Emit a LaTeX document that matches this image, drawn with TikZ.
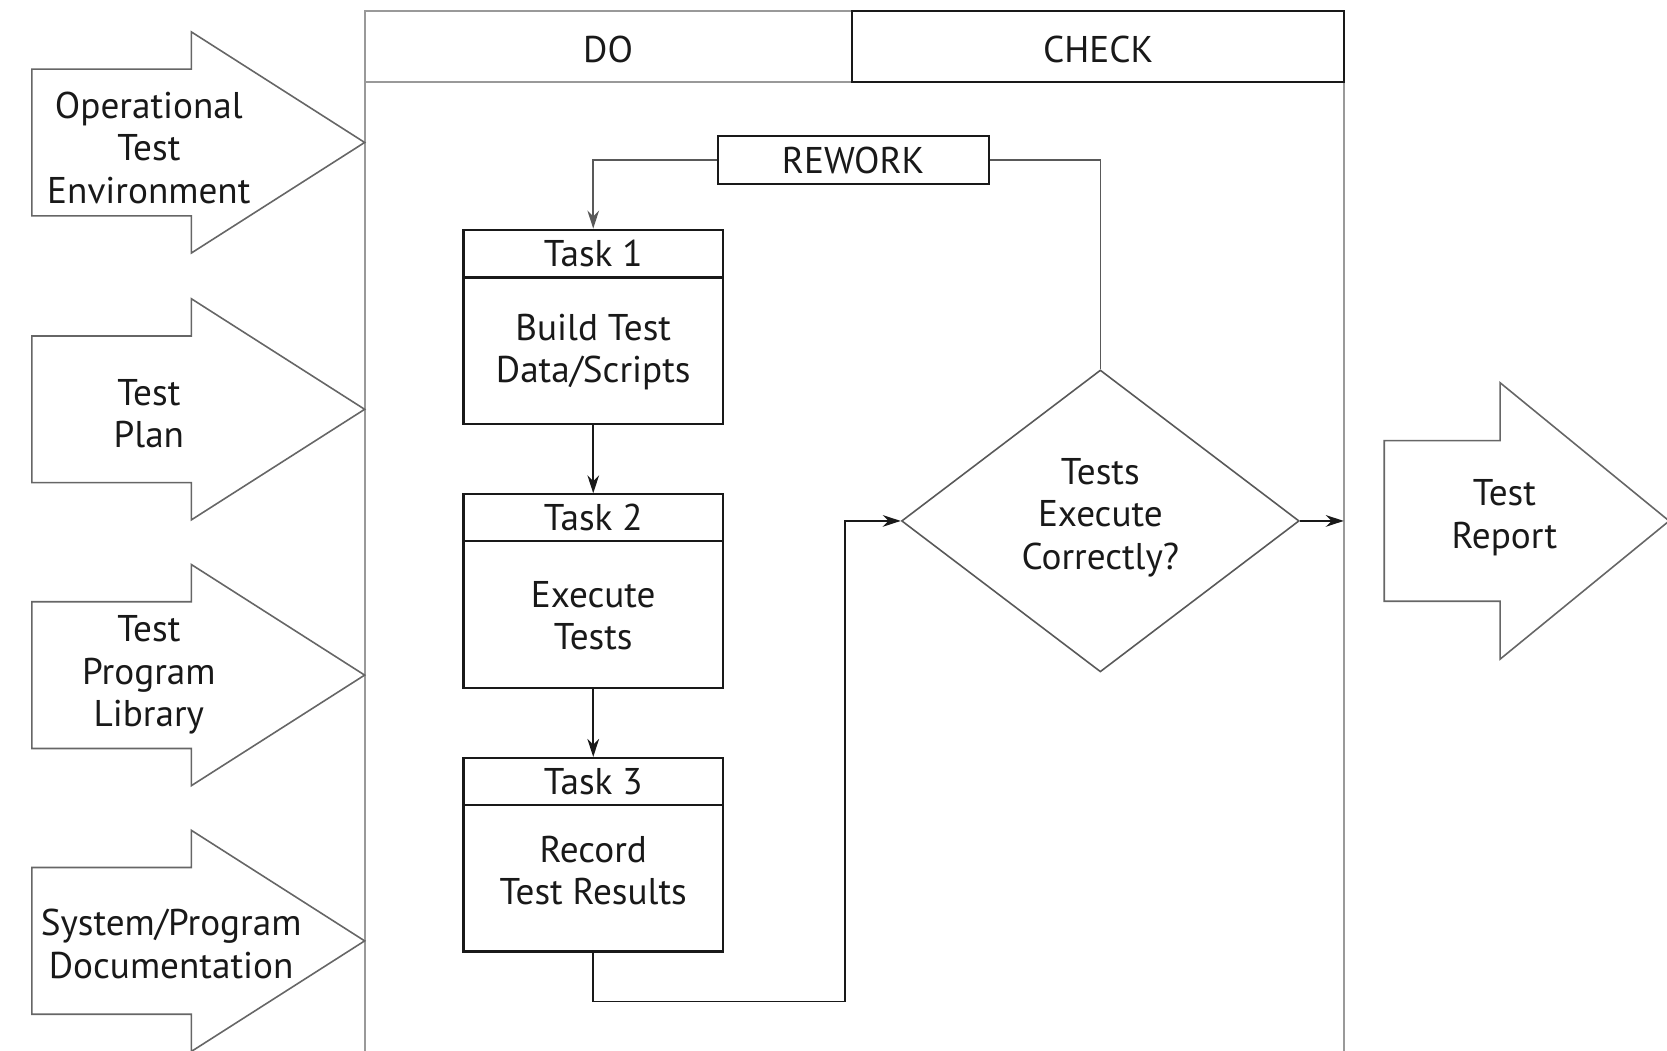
\documentclass[tikz,border=0pt]{standalone}
\usepackage{fontspec}
\setmainfont{PT Sans}
\usetikzlibrary{arrows.meta,shapes.geometric}
\begin{document}
\begin{tikzpicture}[x=1pt,y=-1pt,
  txt/.style={font=\fontsize{35}{40}\selectfont, align=center, text=black!90, inner sep=0pt},
  blk/.style={draw=black!90, line width=2pt},
  gline/.style={draw=black!65, line width=1.6pt},
  lgline/.style={draw=black!40, line width=1.8pt},
  garrow/.style={draw=black!60, line width=1.5pt, line join=miter},
  arr/.style={-{Stealth[length=17pt,width=11pt]}},
  boxn/.style={blk, inner sep=0pt}
]
\useasboundingbox (0,0) rectangle (1568,988);

% container
\draw[lgline] (343,1000) -- (343,10) -- (801,10);
\draw[lgline] (343,77) -- (801,77);
\draw[lgline] (1264,77) -- (1264,1000);
\node[boxn, minimum width=463pt, minimum height=67pt] (check) at (1032.5,43.5) {};
\node[txt] (dotxt) at (572,47) {DO};
\node[txt] (checktxt) at (1033,47) {CHECK};

% input arrows
\foreach \cy in {134,385,635,885} {
  \draw[garrow] (30,\cy-69) -- (180,\cy-69) -- (180,\cy-104) -- (343,\cy)
     -- (180,\cy+104) -- (180,\cy+69) -- (30,\cy+69) -- cycle;
}
\node[txt] (in1) at (140,139) {Operational\\Test\\Environment};
\node[txt] (in2) at (140,389) {Test\\Plan};
\node[txt] (in3) at (140,635) {Test\\Program\\Library};
\node[txt] (in4) at (161,888) {System/Program\\Documentation};

% output arrow
\draw[garrow] (1302,414.5) -- (1411,414.5) -- (1411,360) -- (1570,490)
   -- (1411,620) -- (1411,565.5) -- (1302,565.5) -- cycle;
\node[txt] (out) at (1415,487) {Test\\Report};

% rework
\node[boxn, txt, minimum width=255pt, minimum height=45pt, draw=black!90, line width=2pt] (rw) at (802.5,150.5) {REWORK};

% tasks
\node[boxn, minimum width=244pt, minimum height=45pt] (t1h) at (558,238.5) {};
\node[boxn, minimum width=244pt, minimum height=138pt] (t1b) at (558,330) {};
\node[txt] at (t1h) {Task 1};
\node[txt] (t1t) at (558,331) {Build Test\\Data/Scripts};

\node[boxn, minimum width=244pt, minimum height=44pt] (t2h) at (558,487) {};
\node[boxn, minimum width=244pt, minimum height=138pt] (t2b) at (558,578) {};
\node[txt] at (t2h) {Task 2};
\node[txt] (t2t) at (558,579) {Execute\\Tests};

\node[boxn, minimum width=244pt, minimum height=44pt] (t3h) at (558,735) {};
\node[boxn, minimum width=244pt, minimum height=138pt] (t3b) at (558,826) {};
\node[txt] at (t3h) {Task 3};
\node[txt] (t3t) at (558,819) {Record\\Test Results};

% decision
\node[diamond, draw=black!65, line width=1.5pt, minimum width=374pt, minimum height=284pt, inner sep=0pt] (dia) at (1035,490) {};
\node[txt] (diat) at (1035,487) {Tests\\Execute\\Correctly?};

% connectors
\coordinate (c1) at (795,942);
\coordinate (rb) at (1264,490);
\draw[gline, arr] (rw.west) -| (t1h.north);
\draw[gline] (rw.east) -| (dia.north);
\draw[blk, line width=1.6pt, arr] (t1b.south) -- (t2h.north);
\draw[blk, line width=1.6pt, arr] (t2b.south) -- (t3h.north);
\draw[blk, line width=1.6pt, arr] (t3b.south) |- (c1) |- (dia.west);
\draw[blk, line width=1.6pt, arr] (dia.east) -- (rb);
\end{tikzpicture}
\end{document}
